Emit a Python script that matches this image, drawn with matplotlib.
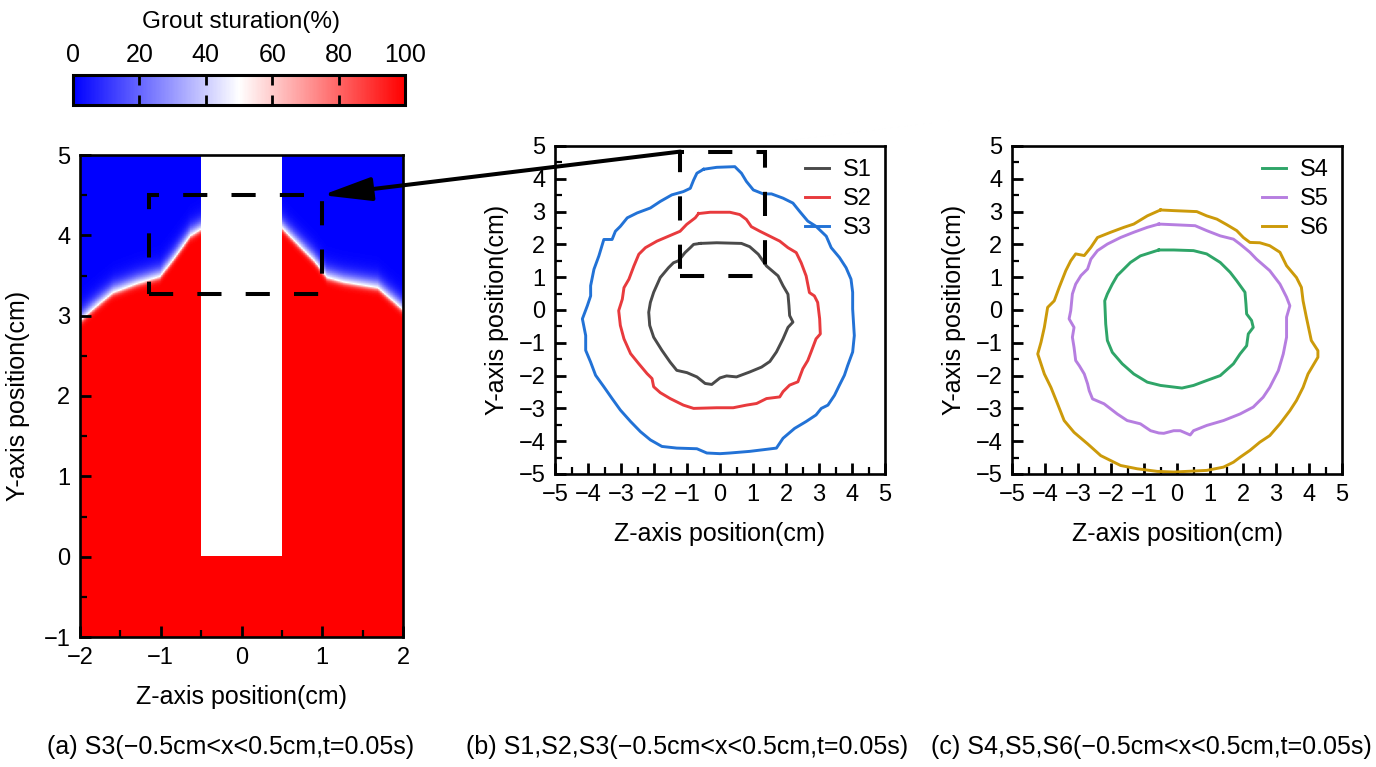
import numpy as np
import matplotlib
matplotlib.use('Agg')
import matplotlib.pyplot as plt
from matplotlib.patches import Rectangle, ConnectionPatch
from matplotlib.ticker import MultipleLocator
from matplotlib.cm import ScalarMappable
from matplotlib.colors import Normalize

plt.rcParams['font.family'] = ['Liberation Sans', 'DejaVu Sans']
plt.rcParams['axes.unicode_minus'] = True

# ---------------- data ----------------
# grout front (boundary between saturated / unsaturated) in panel (a)
front_z = [-2.0, -1.8, -1.59, -1.3, -1.01, -0.84, -0.63, -0.5, 0.5, 0.65, 0.90, 1.06, 1.27, 1.69, 2.0]
front_y = [2.94, 3.12, 3.29, 3.40, 3.49, 3.71, 4.00, 4.08, 4.10, 3.94, 3.69, 3.48, 3.42, 3.35, 3.08]
pipe_z = [-0.5, 0.5]
pipe_y = [0.0, 5.0]

s1_z = [-0.60, -0.10, 0.65, 0.90, 1.16, 1.41, 1.76, 1.91, 2.06, 2.09, 2.11, 2.21, 2.06, 1.91, 1.71, 1.51, 1.26, 0.90, 0.50, 0.20, 0.00, -0.25, -0.45, -0.70, -1.00, -1.31, -1.51, -1.76, -2.01, -2.13, -2.16, -2.11, -2.01, -1.81, -1.56, -1.41, -1.26, -1.06, -0.90, -0.80, -0.60]
s1_y = [2.03, 2.05, 2.03, 1.93, 1.70, 1.34, 1.04, 0.74, 0.48, 0.13, -0.17, -0.37, -0.53, -0.88, -1.28, -1.57, -1.74, -1.89, -2.04, -2.01, -2.07, -2.27, -2.24, -2.04, -1.91, -1.84, -1.59, -1.23, -0.83, -0.47, -0.07, 0.23, 0.54, 0.99, 1.29, 1.44, 1.50, 1.75, 1.90, 2.00, 2.03]

s2_z = [-0.65, -0.30, 0.30, 0.60, 0.80, 0.95, 1.21, 1.51, 1.81, 2.06, 2.31, 2.46, 2.61, 2.71, 2.86, 2.96, 3.02, 3.04, 2.91, 2.76, 2.66, 2.51, 2.36, 2.11, 1.91, 1.81, 1.41, 1.11, 0.80, 0.40, -0.10, -0.80, -1.11, -1.51, -1.81, -2.01, -2.06, -2.21, -2.46, -2.71, -2.91, -3.02, -3.07, -2.96, -2.91, -2.76, -2.61, -2.46, -2.26, -1.91, -1.56, -1.21, -1.01, -0.75, -0.65]
s2_y = [2.94, 2.98, 2.98, 2.91, 2.76, 2.54, 2.40, 2.25, 2.10, 1.90, 1.75, 1.44, 1.04, 0.53, 0.43, 0.23, -0.27, -0.73, -0.88, -1.28, -1.54, -1.79, -2.19, -2.29, -2.49, -2.65, -2.70, -2.85, -2.90, -2.98, -2.98, -3.00, -2.90, -2.70, -2.52, -2.34, -2.09, -1.94, -1.64, -1.33, -0.88, -0.47, -0.02, 0.33, 0.68, 0.94, 1.34, 1.70, 1.90, 2.10, 2.25, 2.40, 2.61, 2.81, 2.94]

s3_z = [-0.50, -0.10, 0.45, 0.65, 0.80, 1.01, 1.31, 1.56, 1.91, 2.21, 2.41, 2.66, 2.91, 3.22, 3.37, 3.62, 3.82, 3.97, 4.02, 4.02, 4.07, 4.02, 3.87, 3.77, 3.62, 3.47, 3.27, 3.07, 2.91, 2.61, 2.26, 1.91, 1.71, 1.31, 0.90, 0.30, 0.00, -0.40, -0.70, -1.31, -1.76, -2.11, -2.41, -2.71, -3.02, -3.27, -3.52, -3.77, -3.92, -4.07, -4.07, -4.17, -4.02, -3.92, -3.92, -3.82, -3.67, -3.52, -3.27, -3.17, -3.02, -2.81, -2.51, -2.11, -1.81, -1.46, -1.11, -0.90, -0.80, -0.70, -0.50]
s3_y = [4.29, 4.35, 4.37, 4.17, 3.92, 3.66, 3.54, 3.54, 3.41, 3.26, 3.01, 2.71, 2.55, 2.25, 1.90, 1.60, 1.29, 0.94, 0.54, 0.03, -0.78, -1.28, -1.69, -1.99, -2.29, -2.60, -2.90, -3.00, -3.20, -3.40, -3.61, -3.91, -4.21, -4.26, -4.31, -4.36, -4.38, -4.36, -4.23, -4.21, -4.16, -3.96, -3.71, -3.40, -3.05, -2.70, -2.34, -1.99, -1.59, -1.23, -0.78, -0.27, 0.13, 0.43, 0.74, 1.24, 1.65, 2.15, 2.15, 2.40, 2.55, 2.81, 2.96, 3.11, 3.31, 3.51, 3.61, 3.71, 3.96, 4.17, 4.29]

s4_z = [-0.55, -0.10, 0.50, 0.90, 1.31, 1.61, 1.81, 2.06, 2.09, 2.11, 2.26, 2.31, 2.16, 2.11, 1.91, 1.71, 1.31, 0.90, 0.50, 0.15, -0.50, -0.90, -1.31, -1.66, -1.96, -2.11, -2.16, -2.19, -2.11, -1.96, -1.81, -1.61, -1.41, -1.11, -0.80, -0.55]
s4_y = [1.83, 1.83, 1.81, 1.71, 1.45, 1.15, 0.89, 0.54, 0.18, -0.12, -0.32, -0.53, -0.73, -1.09, -1.34, -1.64, -2.00, -2.15, -2.30, -2.38, -2.30, -2.20, -1.95, -1.64, -1.29, -0.93, -0.43, 0.28, 0.49, 0.79, 1.05, 1.25, 1.45, 1.65, 1.75, 1.83]

s5_z = [-0.55, -0.10, 0.55, 0.90, 1.31, 1.71, 1.91, 2.21, 2.41, 2.81, 3.12, 3.32, 3.42, 3.32, 3.32, 3.22, 3.07, 2.81, 2.61, 2.31, 1.91, 1.41, 0.90, 0.50, 0.40, 0.10, -0.10, -0.40, -0.55, -0.80, -1.11, -1.51, -1.81, -2.21, -2.56, -2.66, -2.71, -2.81, -2.96, -3.07, -3.12, -3.17, -3.12, -3.27, -3.22, -3.17, -3.07, -2.91, -2.71, -2.61, -2.41, -2.11, -1.71, -1.31, -0.90, -0.55]
s5_y = [2.62, 2.60, 2.57, 2.42, 2.26, 2.16, 2.01, 1.76, 1.55, 1.20, 0.79, 0.39, 0.13, -0.22, -0.83, -1.34, -1.85, -2.36, -2.66, -2.96, -3.17, -3.37, -3.52, -3.68, -3.81, -3.68, -3.68, -3.76, -3.75, -3.68, -3.47, -3.37, -3.17, -2.86, -2.71, -2.46, -2.25, -1.95, -1.70, -1.54, -1.14, -0.83, -0.53, -0.27, -0.02, 0.49, 0.79, 1.05, 1.25, 1.55, 1.81, 2.01, 2.21, 2.37, 2.52, 2.62]

s6_z = [-0.50, -0.10, 0.60, 0.90, 1.21, 1.51, 1.81, 2.01, 2.21, 2.51, 2.81, 3.12, 3.32, 3.62, 3.77, 3.82, 3.92, 4.07, 4.27, 4.27, 3.97, 3.82, 3.62, 3.42, 3.12, 2.81, 2.51, 2.21, 1.91, 1.71, 1.41, 0.90, 0.50, -0.10, -0.60, -1.21, -1.71, -2.01, -2.31, -2.71, -3.12, -3.42, -3.62, -3.82, -4.02, -4.22, -4.12, -4.02, -3.92, -3.72, -3.57, -3.37, -3.22, -3.07, -2.81, -2.61, -2.41, -2.01, -1.61, -1.31, -0.90, -0.50]
s6_y = [3.05, 3.03, 3.00, 2.87, 2.77, 2.60, 2.42, 2.21, 2.06, 2.05, 1.96, 1.76, 1.35, 0.99, 0.69, 0.28, -0.22, -0.93, -1.24, -1.44, -1.95, -2.36, -2.76, -3.07, -3.47, -3.83, -4.03, -4.28, -4.49, -4.64, -4.79, -4.89, -4.91, -4.94, -4.92, -4.84, -4.74, -4.59, -4.44, -4.08, -3.73, -3.37, -2.86, -2.36, -1.95, -1.34, -0.98, -0.53, 0.08, 0.28, 0.69, 1.20, 1.50, 1.71, 1.66, 1.91, 2.21, 2.37, 2.52, 2.62, 2.87, 3.05]

series_b = [("S1", s1_z, s1_y, "#4a4a4a"), ("S2", s2_z, s2_y, "#e83a3d"),
            ("S3", s3_z, s3_y, "#2272d6")]
series_c = [("S4", s4_z, s4_y, "#2fa568"), ("S5", s5_z, s5_y, "#b67ee0"),
            ("S6", s6_z, s6_y, "#cc9a0a")]

cbar_ticks = [0, 20, 40, 60, 80, 100]
captions = ["(a) S3(\u22120.5cm<x<0.5cm,t=0.05s)",
            "(b) S1,S2,S3(\u22120.5cm<x<0.5cm,t=0.05s)",
            "(c) S4,S5,S6(\u22120.5cm<x<0.5cm,t=0.05s)"]

# ---------------- figure ----------------
W, H = 1376, 767
fig = plt.figure(figsize=(W / 100, H / 100), dpi=100)


def px_axes(l, t, r, b):
    return fig.add_axes([l / W, 1 - b / H, (r - l) / W, (b - t) / H])


TICK_FS = 17
LAB_FS = 18
LEG_FS = 17


def style_axes(ax, major, minor):
    ax.xaxis.set_major_locator(MultipleLocator(major))
    ax.xaxis.set_minor_locator(MultipleLocator(minor))
    ax.yaxis.set_major_locator(MultipleLocator(major))
    ax.yaxis.set_minor_locator(MultipleLocator(minor))
    ax.tick_params(which='major', direction='in', length=8, width=2,
                   labelsize=TICK_FS, pad=7)
    ax.tick_params(which='minor', direction='in', length=5, width=1.6)
    for sp in ax.spines.values():
        sp.set_linewidth(1.9)


# Panel (a): saturation field
ax_a = px_axes(80, 155, 403, 637)
zg = np.linspace(-2, 2, 801)
yg = np.linspace(-1, 5, 1201)
Z, Y = np.meshgrid(zg, yg)
yb = np.interp(zg, front_z, front_y)[None, :]
d = yb - Y
sat = np.where(d >= 0, 50 * (1 + np.tanh(d / 0.05)), 50 * (1 + np.tanh(d / 0.14)))
mask = (Z > pipe_z[0]) & (Z < pipe_z[1]) & (Y > pipe_y[0])
sat = np.ma.masked_where(mask, sat)
cmap = plt.get_cmap('bwr').copy()
cmap.set_bad('white')
ax_a.imshow(sat, origin='lower', extent=(-2, 2, -1, 5), cmap=cmap,
            vmin=0, vmax=100, aspect='auto', interpolation='nearest')
ax_a.set_xlim(-2, 2)
ax_a.set_ylim(-1, 5)
style_axes(ax_a, 1, 0.5)
ax_a.set_xlabel("Z-axis position(cm)", fontsize=LAB_FS, labelpad=12)
ax_a.set_ylabel("Y-axis position(cm)", fontsize=LAB_FS, labelpad=10)
ax_a.add_patch(Rectangle((-1.14, 3.27), 2.14, 1.23, fill=False, lw=2.9,
                         ls=(0, (6, 6)), ec='black', zorder=5))

# Panel (b)
ax_b = px_axes(555, 146, 885, 474)
for name, zz, yy, col in series_b:
    ax_b.plot(zz, yy, color=col, lw=2.1, label=name)
ax_b.set_xlim(-5, 5)
ax_b.set_ylim(-5, 5)
style_axes(ax_b, 1, 0.5)
ax_b.set_xlabel("Z-axis position(cm)", fontsize=LAB_FS, labelpad=12)
ax_b.set_ylabel("Y-axis position(cm)", fontsize=LAB_FS, labelpad=7)
ax_b.legend(loc='upper right', frameon=False, fontsize=LEG_FS, handlelength=1.0,
            handletextpad=0.6, labelspacing=0.3, borderaxespad=0.15)
ax_b.add_patch(Rectangle((-1.2, 1.05), 2.55, 3.78, fill=False, lw=2.9,
                         ls=(0, (6, 6)), ec='black', zorder=5))

# Panel (c)
ax_c = px_axes(1012, 146, 1342, 474)
for name, zz, yy, col in series_c:
    ax_c.plot(zz, yy, color=col, lw=2.1, label=name)
ax_c.set_xlim(-5, 5)
ax_c.set_ylim(-5, 5)
style_axes(ax_c, 1, 0.5)
ax_c.set_xlabel("Z-axis position(cm)", fontsize=LAB_FS, labelpad=12)
ax_c.set_ylabel("Y-axis position(cm)", fontsize=LAB_FS, labelpad=7)
ax_c.legend(loc='upper right', frameon=False, fontsize=LEG_FS, handlelength=1.0,
            handletextpad=0.6, labelspacing=0.3, borderaxespad=0.15)

# Arrow from (b) to (a)
con = ConnectionPatch(xyA=(-1.2, 4.83), coordsA='data', axesA=ax_b,
                      xyB=(1.0, 4.5), coordsB='data', axesB=ax_a,
                      arrowstyle='-|>,head_length=1.5,head_width=0.36',
                      mutation_scale=20, lw=2.9, color='black',
                      shrinkA=0, shrinkB=0, zorder=10)
fig.add_artist(con)

# Colorbar
ax_cb = px_axes(73, 75, 405, 105)
cb = fig.colorbar(ScalarMappable(norm=Normalize(0, 100), cmap='bwr'),
                  cax=ax_cb, orientation='horizontal', ticks=cbar_ticks)
ax_cb.xaxis.set_ticks_position('both')
ax_cb.xaxis.set_label_position('top')
ax_cb.tick_params(axis='x', which='major', direction='in', length=7, width=2,
                  labelsize=18, labeltop=True, labelbottom=False, pad=6)
ax_cb.minorticks_off()
cb.outline.set_linewidth(2.2)
fig.text(241 / W, 1 - 22 / H, "Grout sturation(%)", ha='center', va='center',
         fontsize=17.5)

# Captions
cap_x = [231, 687, 1151]
for cx, txt in zip(cap_x, captions):
    fig.text(cx / W, 1 - 747 / H, txt, ha='center', va='center', fontsize=18)

fig.savefig("out.png", dpi=100)
